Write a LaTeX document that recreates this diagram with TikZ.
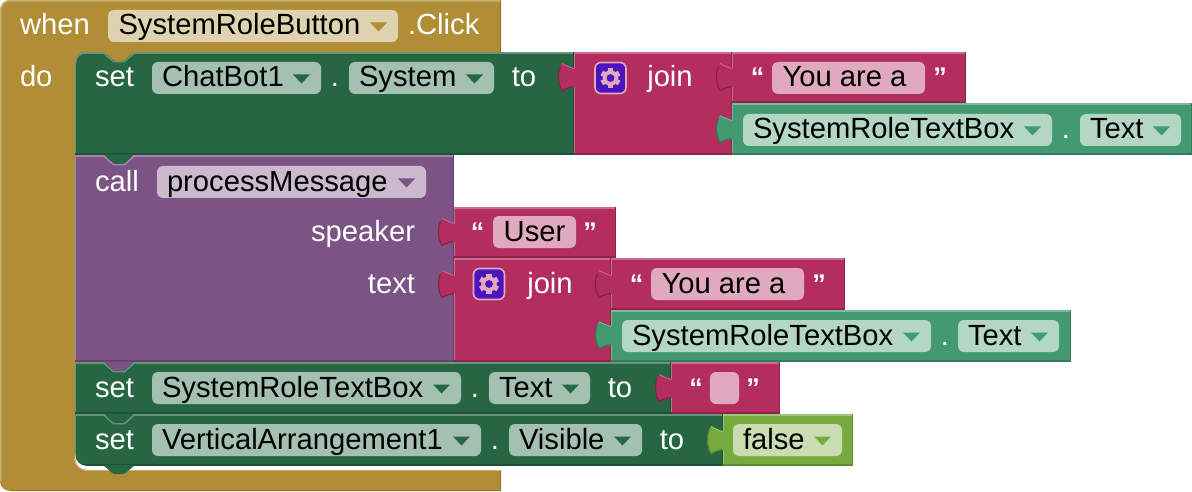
\documentclass[tikz,border=0pt]{standalone}
\usepackage{fontspec}
\setmainfont{Liberation Sans}
\definecolor{must}{HTML}{B18E35}
\definecolor{mustF}{HTML}{DFD2AE}
\definecolor{grn}{HTML}{266643}
\definecolor{grnF}{HTML}{A4C0B1}
\definecolor{pnk}{HTML}{B32D5E}
\definecolor{pnkF}{HTML}{E1A9BE}
\definecolor{pur}{HTML}{7C5385}
\definecolor{purF}{HTML}{CBBACE}
\definecolor{get}{HTML}{439A70}
\definecolor{getF}{HTML}{B3D6C5}
\definecolor{lim}{HTML}{77AB3F}
\definecolor{limF}{HTML}{C9DDB0}
\definecolor{gearblue}{HTML}{4B14BE}
\tikzset{
  x=1pt,y=-1pt,
  blockbox/.style={inner sep=0pt,outer sep=0pt,anchor=north west,minimum width=#1},
  fieldbox/.style={inner sep=0pt,outer sep=0pt,anchor=north west,rounded corners=6pt,minimum height=32pt,minimum width=#1},
  lab/.style={inner sep=0pt,outer sep=0pt,anchor=base,font=\fontsize{29.2}{29.2}\selectfont},
  lableft/.style={lab,anchor=base west},
  labright/.style={lab,anchor=base east},
  qmark/.style={lab,font=\fontsize{27}{27}\selectfont\bfseries},
}
% block: name, x, y, w, h, colour
\newcommand{\blk}[6]{%
  \node[blockbox=#4pt,minimum height=#5pt,fill=#6] (#1) at (#2,#3) {};
  \draw[#6!70!white,line width=1.6pt] ([yshift=-.8pt]#1.north west) -- ([yshift=-.8pt]#1.north east);
  \draw[#6!70!white,line width=1.2pt] ([xshift=.6pt]#1.north west) -- ([xshift=.6pt]#1.south west);
  \draw[#6!80!black,line width=1.6pt] ([yshift=.8pt]#1.south west) -- ([yshift=.8pt]#1.south east);
  \draw[#6!80!black,line width=1.4pt] ([xshift=-.7pt]#1.north east) -- ([xshift=-.7pt]#1.south east);
}
% left tab: x, centre y, colour
\newcommand{\tabL}[3]{%
  \begin{scope}[shift={(#1,#2)}]
    \fill[#3] (1.5,-8.5) -- (0,-8.5) .. controls (-4,-9.5) and (-8,-11.5) .. (-12,-13.5)
      .. controls (-17,-7) and (-17,7) .. (-12,14)
      .. controls (-8,12) and (-4,10.5) .. (0,10) -- (1.5,10) -- cycle;
    \draw[#3!75!black,line width=1.1pt] (-13.4,-10) .. controls (-16.4,-6) and (-16.4,7) .. (-12,13.4) .. controls (-8,11.4) and (-4,10) .. (-.5,9.6);
    \draw[#3!70!white,line width=.8pt] (-12,-13.5) .. controls (-8,-11.5) and (-4,-9.5) .. (0,-8.5);
  \end{scope}
}
% statement notch: x-left, y, tab colour, edge colour
\newcommand{\notch}[4]{%
  \begin{scope}[shift={(#1,#2)}]
    \draw[#4!70!white,line width=1.4pt] (0,.5) -- (10.5,9.6) -- (21.5,9.6) -- (32,.5);
    \fill[#3,rounded corners=1.5pt] (1,-.5) -- (11,8.8) -- (21,8.8) -- (31,-.5) -- cycle;
  \end{scope}
}
% field: name, x, y, w, fill
\newcommand{\fld}[5]{\node[fieldbox=#4pt,fill=#5] (#1) at (#2,#3) {};}
% triangle: field name, colour
\newcommand{\tri}[2]{%
  \fill[#2] ([xshift=-28pt,yshift=3.5pt]#1.east) -- ([xshift=-11pt,yshift=3.5pt]#1.east) -- ([xshift=-19.5pt,yshift=-5.5pt]#1.east) -- cycle;
}
% gear: name, x, y
\newcommand{\gearicon}[3]{%
  \node[inner sep=0pt,outer sep=0pt,minimum size=31pt,rounded corners=6pt,fill=gearblue,draw=pnkF,line width=1.6pt] (#1) at (#2,#3) {};
  \begin{scope}[shift={(#2,#3)}]
    \foreach \a in {30,90,...,330} \fill[pnkF,rotate=\a] (6,-2.6) rectangle (10,2.6);
    \fill[pnkF] (0,0) circle (7.8);
    \fill[gearblue] (0,0) circle (3.9);
  \end{scope}
}
\begin{document}
\begin{tikzpicture}
\useasboundingbox (0,0) rectangle (1192,492);
\fill[white] (0,0) rectangle (1192,492);
% event block
\fill[must] (501,0) -- (10,0) .. controls (4.5,0) and (0,4.5) .. (0,10) -- (0,481) .. controls (0,487) and (4.5,491) .. (10,491) -- (501,491) -- (501,470) -- (75,470) -- (75,52) -- (501,52) -- cycle;
\draw[must!70!white,line width=1.6pt] (500,.8) -- (10,.8) .. controls (5,.8) and (.8,5) .. (.8,10) -- (.8,481);
\draw[must!80!black,line width=1.4pt] (500.3,1) -- (500.3,52);
\draw[must!80!black,line width=1.6pt] (10,490.6) -- (501,490.6);
\draw[must!80!black,line width=1.4pt] (500.3,470) -- (500.3,491);
\draw[must!70!white,line width=1.4pt] (88,470.7) -- (501,470.7);
% first row
\blk{setA}{75}{52}{499}{103}{grn}
\fill[must] (75,52) -- (87,52) .. controls (80,52) and (75,57) .. (75,64) -- cycle;
\draw[grn!70!white,line width=1.2pt] (75.6,64) .. controls (75.6,57) and (80,52.6) .. (87,52.6);
\notch{103}{52}{must}{grn}
\blk{joinA}{574}{52}{158}{103}{pnk}
\tabL{574}{77}{pnk}
\blk{textA}{732}{52}{234}{51}{pnk}
\tabL{732}{77}{pnk}
\blk{getA}{732}{103}{460}{52}{get}
\tabL{732}{129}{get}
% call block
\blk{callB}{75}{155}{379}{207}{pur}
\notch{103}{155}{grn}{pur}
\blk{textB}{454}{207}{162}{51}{pnk}
\tabL{454}{232}{pnk}
\blk{joinB}{454}{258}{157}{104}{pnk}
\tabL{454}{284}{pnk}
\blk{textC}{611}{258}{234}{52}{pnk}
\tabL{611}{284}{pnk}
\blk{getB}{611}{310}{460}{52}{get}
\tabL{611}{335}{get}
% set blocks
\blk{setC}{75}{362}{596}{52}{grn}
\notch{103}{362}{pur}{grn}
\blk{textD}{671}{362}{109}{52}{pnk}
\tabL{671}{388}{pnk}
\blk{setD}{75}{414}{648}{52}{grn}
\notch{103}{414}{grn}{grn}
\blk{limA}{723}{414}{130}{52}{lim}
\tabL{723}{440}{lim}
% inner bottom-left corner and bottom tab
\fill[white] (75,454) .. controls (75,461) and (80,466) .. (87,466) -- (87,470) .. controls (80,470) and (75,465) .. (75,458) -- cycle;
\fill[white] (87,466) rectangle (501,470);
\fill[must] (75,458) .. controls (75,465) and (80,470) .. (87,470) -- (75,470) -- cycle;
\draw[must!70!white,line width=1.2pt] (74.6,458) .. controls (74.6,465.4) and (80,470.6) .. (88,470.6);
\fill[grn,rounded corners=1.5pt] (103,465) -- (113.5,474) -- (124.5,474) -- (135,465) -- cycle;
% fields
\fld{fEvent}{108}{10}{290}{mustF}\tri{fEvent}{must}
\fld{fBotA}{152}{62}{169}{grnF}\tri{fBotA}{grn}
\fld{fSysA}{349}{62}{145}{grnF}\tri{fSysA}{grn}
\fld{fYouA}{772}{62}{153}{pnkF}
\fld{fBoxA}{743}{114}{309}{getF}\tri{fBoxA}{get}
\fld{fTxtA}{1080}{114}{101}{getF}\tri{fTxtA}{get}
\fld{fProc}{157}{166}{269}{purF}\tri{fProc}{pur}
\fld{fUser}{493}{216}{83}{pnkF}
\fld{fYouB}{651}{268}{153}{pnkF}
\fld{fBoxB}{622}{320}{309}{getF}\tri{fBoxB}{get}
\fld{fTxtB}{958}{320}{101}{getF}\tri{fTxtB}{get}
\fld{fBoxC}{152}{372}{309}{grnF}\tri{fBoxC}{grn}
\fld{fTxtC}{489}{372}{101}{grnF}\tri{fTxtC}{grn}
\fld{fEmpty}{710}{372}{29}{pnkF}
\fld{fVert}{152}{424}{329}{grnF}\tri{fVert}{grn}
\fld{fVis}{509}{424}{133}{grnF}\tri{fVis}{grn}
\fld{fFalse}{733}{424}{109}{limF}\tri{fFalse}{lim}
% gears
\gearicon{gearA}{610.5}{78}
\gearicon{gearB}{489}{284}
% field text
\node[lableft] (t1) at (118.5,35) {SystemRoleButton};
\node[lableft] (t2) at (162,87) {ChatBot1};
\node[lableft] (t3) at (359,87) {System};
\node[lab] (t4) at (844.5,87) {You are a};
\node[lableft] (t5) at (753,139) {SystemRoleTextBox};
\node[lableft] (t6) at (1090,139) {Text};
\node[lableft] (t7) at (167,191) {processMessage};
\node[lab] (t8) at (534.5,241) {User};
\node[lab] (t9) at (723.5,293) {You are a};
\node[lableft] (t10) at (632,345) {SystemRoleTextBox};
\node[lableft] (t11) at (968,345) {Text};
\node[lableft] (t12) at (162,397) {SystemRoleTextBox};
\node[lableft] (t13) at (499,397) {Text};
\node[lableft] (t14) at (162,449) {VerticalArrangement1};
\node[lableft] (t15) at (519,449) {Visible};
\node[lableft] (t16) at (743,449) {false};
% white text
\begin{scope}[every node/.append style={text=white}]
\node[lableft] (w1) at (20,35) {when};
\node[lableft] (w2) at (408,35) {.Click};
\node[lableft] (w3) at (20,87) {do};
\node[lableft] (w4) at (95,87) {set};
\node[lab] (w5) at (335,87) {.};
\node[lab] (w6) at (524,87) {to};
\node[lab] (w7) at (670,87) {join};
\node[qmark] (w8) at (757.5,87) {“};
\node[qmark] (w9) at (940,87) {”};
\node[lab] (w10) at (1066,139) {.};
\node[lableft] (w11) at (95,191) {call};
\node[labright] (w12) at (415,241) {speaker};
\node[labright] (w13) at (415,293) {text};
\node[qmark] (w14) at (477.5,241) {“};
\node[qmark] (w15) at (590,241) {”};
\node[lab] (w16) at (550,293) {join};
\node[qmark] (w17) at (636.5,293) {“};
\node[qmark] (w18) at (819,293) {”};
\node[lab] (w19) at (945,345) {.};
\node[lableft] (w20) at (95,397) {set};
\node[lab] (w21) at (475,397) {.};
\node[lab] (w22) at (620,397) {to};
\node[qmark] (w23) at (696,397) {“};
\node[qmark] (w24) at (753,397) {”};
\node[lableft] (w25) at (95,449) {set};
\node[lab] (w26) at (495,449) {.};
\node[lab] (w27) at (672,449) {to};
\end{scope}
\end{tikzpicture}
\end{document}
